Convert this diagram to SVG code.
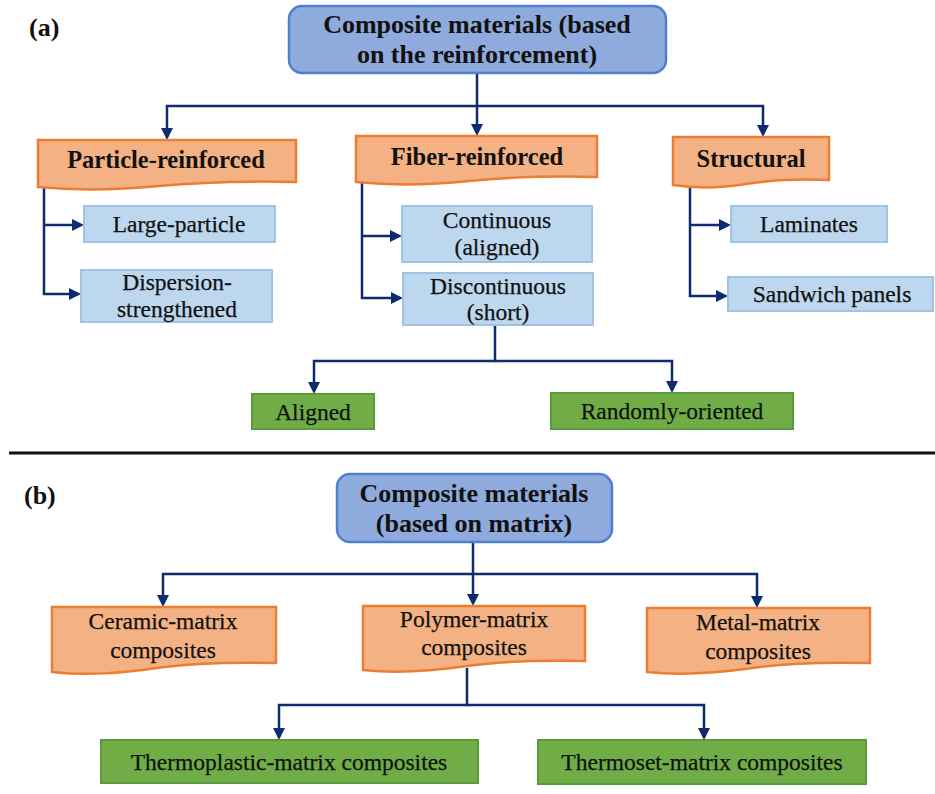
<svg xmlns="http://www.w3.org/2000/svg" width="935" height="794" viewBox="0 0 935 794">
<defs>
<style>
.root{fill:#8faadc;stroke:#4f7fd0;stroke-width:2.5}
.hdr{fill:#f4b183;stroke:#ed7d31;stroke-width:2.5}
.sub{fill:#bdd7ee;stroke:#9dc3e6;stroke-width:2}
.leaf{fill:#70ad47;stroke:#5a9a3a;stroke-width:2}
.c{fill:none;stroke:#0f2b70;stroke-width:2.5;marker-end:url(#ah)}
text{font-family:"Liberation Serif","Times New Roman","DejaVu Serif",serif;fill:#111;text-anchor:middle}
.b25{font-size:26px;font-weight:bold}
.b24{font-size:24.5px;font-weight:bold}
.r23{font-size:23.5px;font-weight:normal;stroke:#111;stroke-width:0.25}
.lab{font-size:26px;font-weight:bold;text-anchor:start}
</style>
<marker id="ah" markerUnits="userSpaceOnUse" markerWidth="12" markerHeight="12" refX="9" refY="6" orient="auto">
<path d="M0,0 L12,6 L0,12 z" fill="#0f2b70"/>
</marker>
</defs>
<rect width="935" height="794" fill="#ffffff"/>

<text class="lab" x="29" y="36">(a)</text>
<text class="lab" x="24" y="504">(b)</text>
<line x1="9" y1="453" x2="935" y2="453" stroke="#111" stroke-width="3"/>

<g id="connectors">
<path class="c" d="M477,73 V133"/>
<path class="c" d="M477,106 H167 V137"/>
<path class="c" d="M477,106 H763 V134"/>
<path class="c" d="M44,187 V294 H78"/>
<path class="c" d="M44,225 H81"/>
<path class="c" d="M362,182 V298 H400"/>
<path class="c" d="M362,236 H399"/>
<path class="c" d="M690,185 V296 H725"/>
<path class="c" d="M690,225 H728"/>
<path class="c" d="M495,325 V361 H314 V391"/>
<path class="c" d="M495,361 H672 V390"/>
<path class="c" d="M473,542 V603"/>
<path class="c" d="M473,574 H163 V604"/>
<path class="c" d="M473,574 H757 V605"/>
<path class="c" d="M467,668 V705 H279 V737"/>
<path class="c" d="M467,705 H704 V737"/>
</g>

<g id="root-a">
<rect class="root" x="289" y="6" width="377" height="67" rx="13"/>
<text class="b25" x="477" y="33">Composite materials (based</text>
<text class="b25" x="477" y="63">on the reinforcement)</text>
</g>

<g id="particle">
<path class="hdr" d="M38,140 H296 V182 C250,181 201,182 159,186 C118,190 79,191 38,187 Z"/>
<text class="b24" x="166" y="168">Particle-reinforced</text>
</g>
<g id="fiber">
<path class="hdr" d="M356,136 H597 V177 C554,176 508,177 469,181 C431,185 395,186 356,182 Z"/>
<text class="b24" x="477" y="165">Fiber-reinforced</text>
</g>
<g id="structural">
<path class="hdr" d="M673,137 H829 V180 C801,179 771,180 746,184 C721,188 698,189 673,185 Z"/>
<text class="b24" x="751" y="167">Structural</text>
</g>

<g id="large-particle">
<rect class="sub" x="84" y="206" width="191" height="36"/>
<text class="r23" x="179" y="232">Large-particle</text>
</g>
<g id="dispersion">
<rect class="sub" x="81" y="270" width="191" height="52"/>
<text class="r23" x="177" y="290">Dispersion-</text>
<text class="r23" x="177" y="317">strengthened</text>
</g>
<g id="continuous">
<rect class="sub" x="402" y="206" width="190" height="56"/>
<text class="r23" x="497" y="228">Continuous</text>
<text class="r23" x="497" y="255">(aligned)</text>
</g>
<g id="discontinuous">
<rect class="sub" x="403" y="273" width="190" height="52"/>
<text class="r23" x="498" y="294">Discontinuous</text>
<text class="r23" x="498" y="320">(short)</text>
</g>
<g id="laminates">
<rect class="sub" x="731" y="206" width="156" height="36"/>
<text class="r23" x="809" y="232">Laminates</text>
</g>
<g id="sandwich">
<rect class="sub" x="728" y="277" width="205" height="34"/>
<text class="r23" x="832" y="302">Sandwich panels</text>
</g>

<g id="aligned">
<rect class="leaf" x="252" y="394" width="122" height="35"/>
<text class="r23" x="313" y="420">Aligned</text>
</g>
<g id="randomly">
<rect class="leaf" x="551" y="393" width="242" height="36"/>
<text class="r23" x="672" y="419">Randomly-oriented</text>
</g>

<g id="root-b">
<rect class="root" x="337" y="474" width="275" height="68" rx="13"/>
<text class="b25" x="474" y="502">Composite materials</text>
<text class="b25" x="474" y="532">(based on matrix)</text>
</g>

<g id="ceramic">
<path class="hdr" d="M52,607 H276 V663 C236,662 193,663 157,668 C121,673 88,676 52,672 Z"/>
<text class="r23" x="163" y="629">Ceramic-matrix</text>
<text class="r23" x="163" y="658">composites</text>
</g>
<g id="polymer">
<path class="hdr" d="M363,606 H585 V661 C545,660 503,661 467,666 C432,671 399,674 363,670 Z"/>
<text class="r23" x="474" y="627">Polymer-matrix</text>
<text class="r23" x="474" y="655">composites</text>
</g>
<g id="metal">
<path class="hdr" d="M647,608 H870 V663 C830,662 787,663 752,668 C717,673 683,676 647,672 Z"/>
<text class="r23" x="758" y="630">Metal-matrix</text>
<text class="r23" x="758" y="659">composites</text>
</g>

<g id="thermoplastic">
<rect class="leaf" x="101" y="740" width="377" height="43"/>
<text class="r23" x="289" y="770">Thermoplastic-matrix composites</text>
</g>
<g id="thermoset">
<rect class="leaf" x="538" y="740" width="328" height="44"/>
<text class="r23" x="702" y="770">Thermoset-matrix composites</text>
</g>
</svg>
